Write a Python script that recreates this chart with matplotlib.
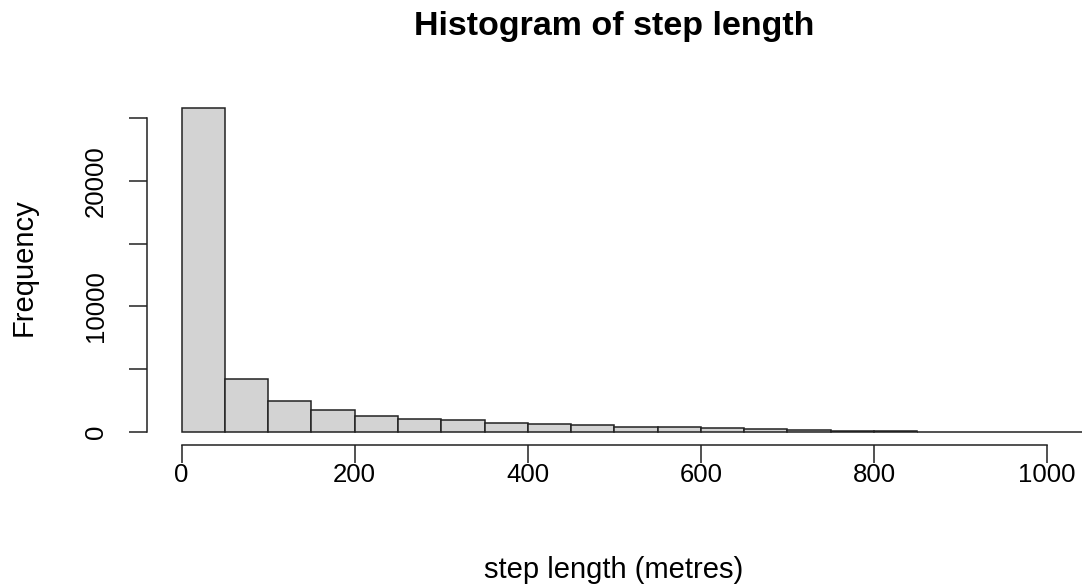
import numpy as np
import matplotlib
matplotlib.use("Agg")
import matplotlib.pyplot as plt

# ---------------------------------------------------------
# data (bin width 50 m)
# ---------------------------------------------------------
bin_edges = np.arange(0, 1100, 50)
counts = [25850, 4200, 2450, 1730, 1275, 1040, 930, 700, 595, 500,
          370, 355, 260, 230, 100, 80, 60, 10, 5, 3, 2]

x_ticks = [0, 200, 400, 600, 800, 1000]
y_ticks = [0, 5000, 10000, 15000, 20000, 25000]
y_tick_labels = ["0", "", "10000", "", "20000", ""]

plt.rcParams["font.family"] = ["Liberation Sans", "DejaVu Sans"]

fig = plt.figure(figsize=(10.84, 5.86), dpi=100)
ax = fig.add_axes([0.1356, 0.2411, 0.8623, 0.5973])

ax.bar(bin_edges[:-1], counts, width=50, align="edge",
       color="#d3d3d3", edgecolor="#222222", linewidth=1.1)

# R style plot region: 4% padding on each side
ax.set_xlim(-40, 1040)
ax.set_ylim(-0.04 * max(counts), 1.04 * max(counts))

for side in ["top", "right"]:
    ax.spines[side].set_visible(False)
ax.spines["left"].set_bounds(0, 25000)
ax.spines["bottom"].set_bounds(0, 1000)
for side in ["left", "bottom"]:
    ax.spines[side].set_linewidth(1.1)
    ax.spines[side].set_color("#222222")

ax.set_xticks(x_ticks)
ax.set_yticks(y_ticks)
ax.set_yticklabels(y_tick_labels, rotation=90, va="center")
ax.tick_params(axis="both", direction="out", length=13, width=1.1,
               color="#222222", labelsize=18.5)
ax.tick_params(axis="x", pad=0)
ax.tick_params(axis="y", pad=15)

ax.set_xlabel("step length (metres)", fontsize=21, va="center")
ax.xaxis.set_label_coords(0.4996, -0.358)
ax.set_ylabel("Frequency", fontsize=21, va="center")
ax.yaxis.set_label_coords(-0.1316, 0.508)

fig.text(0.5664, 0.955, "Histogram of step length", fontsize=24.5,
         fontweight="bold", ha="center", va="center")

fig.savefig("out.png", dpi=100)
